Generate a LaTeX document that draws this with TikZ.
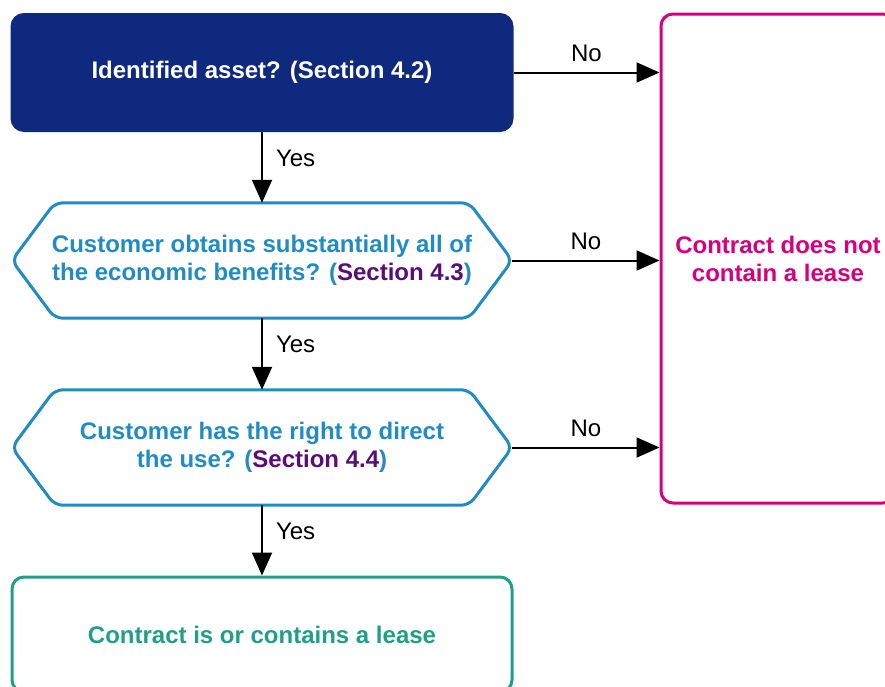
\documentclass[tikz,border=0pt]{standalone}
\usepackage{fontspec}
\setmainfont{Liberation Sans}
\usetikzlibrary{arrows.meta}

\definecolor{kNavy}{RGB}{14,41,125}
\definecolor{kBlue}{RGB}{33,140,196}
\definecolor{kPurple}{RGB}{90,12,120}
\definecolor{kMagenta}{RGB}{214,0,127}
\definecolor{kGreen}{RGB}{30,160,136}

\tikzset{
  box/.style={rectangle, rounded corners=12pt, line width=3pt, minimum width=500pt,
    minimum height=116pt, align=center, font=\fontsize{24}{28}\selectfont\bfseries},
  hexbox/.style={rectangle, minimum width=500pt, minimum height=115pt, align=center,
    text=kBlue, font=\fontsize{24}{28}\selectfont\bfseries},
  hexline/.style={draw=kBlue, line width=3pt, rounded corners=8pt},
  flow/.style={line width=2pt, -{Triangle[length=23pt,width=20pt]}},
  lbl/.style={font=\fontsize{24}{28}\selectfont, inner sep=0pt}
}

\begin{document}
\begin{tikzpicture}[x=1pt,y=-1pt]

\useasboundingbox (0,0) rectangle (885,686);

\node[box, fill=kNavy, draw=kNavy, text=white] (asset) at (262,72.5) {Identified asset? (Section 4.2)};

\node[hexbox] (benefit) at (262,260.5) {Customer obtains substantially all of\\the economic benefits? (\textcolor{kPurple}{Section 4.3})};
\draw[hexline] (benefit.west) -- ([xshift=43pt]benefit.north west) -- ([xshift=-43pt]benefit.north east) -- (benefit.east) -- ([xshift=-43pt]benefit.south east) -- ([xshift=43pt]benefit.south west) -- cycle;

\node[hexbox] (direct) at (262,447.5) {Customer has the right to direct\\the use? (\textcolor{kPurple}{Section 4.4})};
\draw[hexline] (direct.west) -- ([xshift=43pt]direct.north west) -- ([xshift=-43pt]direct.north east) -- (direct.east) -- ([xshift=-43pt]direct.south east) -- ([xshift=43pt]direct.south west) -- cycle;

\node[box, draw=kGreen, text=kGreen, minimum height=115pt] (lease) at (262,634.5) {Contract is or contains a lease};

\node[box, draw=kMagenta, text=kMagenta, minimum width=234pt, minimum height=489pt] (nolease) at (778,258.5) {Contract does not\\contain a lease};

% yes path
\draw[flow] (asset.south) -- node[lbl, anchor=south west, xshift=13pt] {Yes} (benefit.north);
\draw[flow] (benefit.south) -- node[lbl, anchor=south west, xshift=13pt] {Yes} (direct.north);
\draw[flow] (direct.south) -- node[lbl, anchor=south west, xshift=13pt] {Yes} (lease.north);

% no path
\draw[flow] (asset.east) -- node[lbl, above=10pt] {No} (asset.east -| nolease.west);
\draw[flow] (benefit.east) -- node[lbl, above=10pt] {No} (benefit.east -| nolease.west);
\draw[flow] (direct.east) -- node[lbl, above=10pt] {No} (direct.east -| nolease.west);

\end{tikzpicture}
\end{document}
